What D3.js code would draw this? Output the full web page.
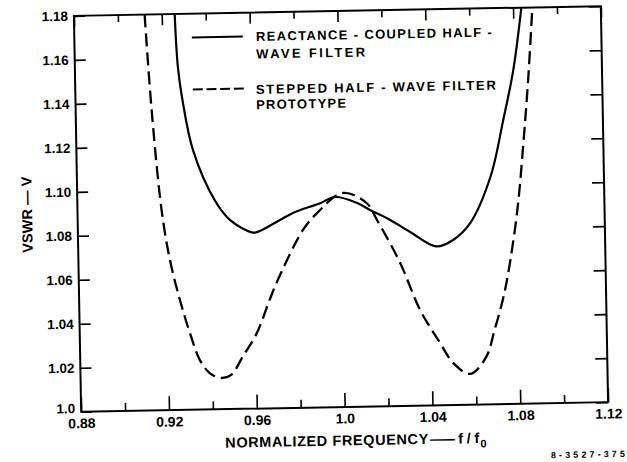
<!DOCTYPE html>
<html><head><meta charset="utf-8">
<script src="https://cdn.jsdelivr.net/npm/d3@7"></script>
<style>body{margin:0;background:#fff}svg{display:block}</style>
</head><body><svg id="c" width="627" height="462"></svg>
<script>
// ---- data ----
const solidF = [0.9259,0.9269,0.9287,0.9331,0.9426,0.9493,0.9597,0.9629,0.9721,0.9781,0.9905,0.9974,1.0072,1.0132,1.0223,1.0313,1.0430,1.0508,1.0587,1.0683,1.0746,1.0796,1.0838];
const solidV = [1.180,1.156,1.141,1.118,1.095,1.086,1.080,1.0807,1.0855,1.0886,1.0928,1.0955,1.0927,1.0893,1.0846,1.079,1.0722,1.075,1.0825,1.1033,1.129,1.1517,1.180];
const dashedF = [0.9122,0.9146,0.9183,0.9217,0.9259,0.9302,0.9345,0.9390,0.9440,0.9486,0.9540,0.9606,0.9667,0.9706,0.9825,0.9889,1.0010,1.0118,1.0163,1.0265,1.0352,1.0440,1.0500,1.0575,1.0649,1.0689,1.0729,1.0756,1.0803,1.0836,1.0864,1.0888];
const dashedV = [1.180,1.1366,1.091,1.0682,1.050,1.0348,1.0225,1.0164,1.0142,1.0155,1.0237,1.0342,1.0492,1.0582,1.0808,1.0882,1.0973,1.0924,1.0847,1.065,1.0434,1.0283,1.0189,1.0140,1.0216,1.0337,1.0473,1.0594,1.0881,1.1185,1.1485,1.180];
const xTicks = [0.88,0.90,0.92,0.94,0.96,0.98,1.00,1.02,1.04,1.06,1.08,1.10,1.12];
const xTickLabels = ["0.88","","0.92","","0.96","","1.0","","1.04","","1.08","","1.12"];
const yTicks = [1.00,1.02,1.04,1.06,1.08,1.10,1.12,1.14,1.16,1.18];
const yTickLabels = ["1.0","1.02","1.04","1.06","1.08","1.10","1.12","1.14","1.16","1.18"];
const legendSolid = ["REACTANCE - COUPLED HALF -","WAVE FILTER"];
const legendDashed = ["STEPPED HALF - WAVE FILTER","PROTOTYPE"];
const xTitle = "NORMALIZED FREQUENCY";
const yTitle = "VSWR — V";
const figCode = "8-3527-375";

// ---- drawing ----
const FONT = "'Liberation Sans', Arial, sans-serif";
const svg = d3.select("#c");
const g = svg.append("g").attr("transform","rotate(-1.05 341 209)");
const L = 77.5, R = 604.5, T = 11, B = 407;
const x = d3.scaleLinear().domain([0.88,1.12]).range([L,R]);
const y = d3.scaleLinear().domain([1.0,1.18]).range([B,T]);
const isMajor = d => Math.abs(Math.round(d*100) % 4) === 0;

function styleAxis(sel){
  sel.select(".domain").remove();
  sel.selectAll(".tick line").attr("stroke","#000").attr("stroke-width",1.6);
  sel.selectAll("text").attr("font-family",FONT).attr("font-weight","bold").attr("fill","#000");
}
const axBottom = g.append("g").attr("transform",`translate(0,${B})`)
  .call(d3.axisBottom(x).tickValues(xTicks).tickSizeOuter(0).tickSizeInner(-14).tickPadding(6.5)
    .tickFormat(d => xTickLabels[xTicks.indexOf(d)]));
styleAxis(axBottom);
axBottom.selectAll(".tick line").attr("y2", d => isMajor(d) ? -14 : -8);
axBottom.selectAll("text").attr("font-size",14);

const axTop = g.append("g").attr("transform",`translate(0,${T})`)
  .call(d3.axisTop(x).tickValues(xTicks).tickSizeOuter(0).tickSizeInner(-11).tickFormat(""));
styleAxis(axTop);
axTop.selectAll(".tick line").attr("y2", d => isMajor(d) ? 11 : 7);

const axLeft = g.append("g").attr("transform",`translate(${L},0)`)
  .call(d3.axisLeft(y).tickValues(yTicks).tickSizeOuter(0).tickSizeInner(-11).tickPadding(6)
    .tickFormat(d => yTickLabels[yTicks.indexOf(d)]));
styleAxis(axLeft);
axLeft.selectAll("text").attr("font-size",13.5)
  .attr("transform", d => d === 1.0 ? "translate(0,-3.5)" : null);

const axRight = g.append("g").attr("transform",`translate(${R},0)`)
  .call(d3.axisRight(y).tickValues(yTicks).tickSizeOuter(0).tickSizeInner(-12).tickFormat(""));
styleAxis(axRight);

g.append("rect").attr("x",L).attr("y",T).attr("width",R-L).attr("height",B-T)
  .attr("fill","none").attr("stroke","#000").attr("stroke-width",2);

g.append("clipPath").attr("id","clip").append("rect")
  .attr("x",L).attr("y",T).attr("width",R-L).attr("height",B-T);

const line = d3.line().x(d=>x(d[0])).y(d=>y(d[1])).curve(d3.curveCatmullRom.alpha(0.5));
const solid = solidF.map((f,i)=>[f,solidV[i]]);
const dashed = dashedF.map((f,i)=>[f,dashedV[i]]);
g.append("path").attr("d",line(solid)).attr("clip-path","url(#clip)")
  .attr("fill","none").attr("stroke","#000").attr("stroke-width",2.2);
g.append("path").attr("d",line(dashed)).attr("clip-path","url(#clip)")
  .attr("fill","none").attr("stroke","#000").attr("stroke-width",2.3).attr("stroke-dasharray","13,6");

// legend
g.append("line").attr("x1",195).attr("x2",246).attr("y1",34.8).attr("y2",34.8)
  .attr("stroke","#000").attr("stroke-width",2);
g.append("line").attr("x1",195).attr("x2",246).attr("y1",86.7).attr("y2",86.7)
  .attr("stroke","#000").attr("stroke-width",2).attr("stroke-dasharray","10,3.7");
const legTxt = [[legendSolid[0],259,39.4,236],[legendSolid[1],259,57,109],
                [legendDashed[0],258,92.4,240],[legendDashed[1],258,107.6,90]];
legTxt.forEach(([t,tx,ty,w]) => g.append("text").attr("x",tx).attr("y",ty).text(t)
  .attr("font-family",FONT).attr("font-weight","bold").attr("font-size",13)
  .attr("textLength",w).attr("lengthAdjust","spacing"));

// axis titles
g.append("text").attr("x",221).attr("y",445.5).text(xTitle)
  .attr("font-family",FONT).attr("font-weight","bold").attr("font-size",14.5)
  .attr("textLength",203).attr("lengthAdjust","spacing");
g.append("text").attr("x",425.7).attr("y",445.5).text("—")
  .attr("font-family",FONT).attr("font-weight","bold").attr("font-size",14.5)
  .attr("textLength",25).attr("lengthAdjust","spacingAndGlyphs");
g.append("text").attr("x",454).attr("y",445.5).text("f/f")
  .attr("font-family",FONT).attr("font-weight","bold").attr("font-size",14.5)
  .attr("textLength",21).attr("lengthAdjust","spacing");
g.append("text").attr("x",476).attr("y",450).text("0")
  .attr("font-family",FONT).attr("font-weight","bold").attr("font-size",11);

g.append("text").attr("transform","translate(32,209) rotate(-90)").attr("text-anchor","middle")
  .text(yTitle).attr("font-family",FONT).attr("font-weight","bold").attr("font-size",14.5)
  .attr("textLength",76).attr("lengthAdjust","spacing");

g.append("text").attr("x",583.4).attr("y",462).attr("text-anchor","middle").text(figCode)
  .attr("font-family",FONT).attr("font-weight","bold").attr("font-size",9)
  .attr("textLength",74).attr("lengthAdjust","spacing");
</script></body></html>
